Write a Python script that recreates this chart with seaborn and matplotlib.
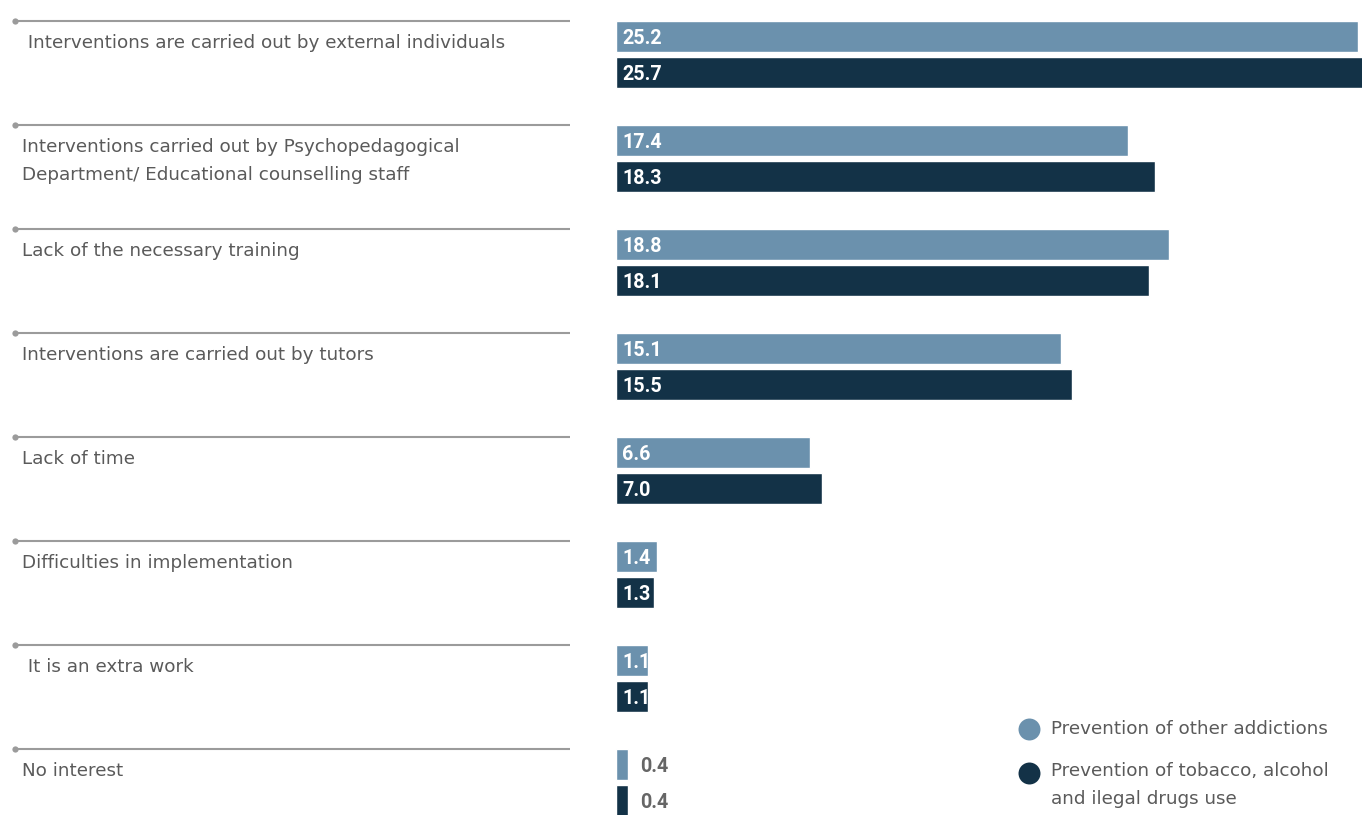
import matplotlib
matplotlib.use("Agg")
import matplotlib.pyplot as plt
import seaborn as sns
import pandas as pd

# Reasons given for how prevention programmes are handled, in percent
categories = [
    " Interventions are carried out by external individuals",
    "Interventions carried out by Psychopedagogical\nDepartment/ Educational counselling staff",
    "Lack of the necessary training",
    "Interventions are carried out by tutors",
    "Lack of time",
    "Difficulties in implementation",
    " It is an extra work",
    "No interest",
]
other_addictions = [25.2, 17.4, 18.8, 15.1, 6.6, 1.4, 1.1, 0.4]
tobacco_alcohol_drugs = [25.7, 18.3, 18.1, 15.5, 7.0, 1.3, 1.1, 0.4]
series_names = [
    "Prevention of other addictions",
    "Prevention of tobacco, alcohol\nand ilegal drugs use",
]
series_colors = ["#6b91ad", "#133247"]

df = pd.DataFrame({
    "category": categories * 2,
    "value": other_addictions + tobacco_alcohol_drugs,
    "series": [series_names[0]] * len(categories) + [series_names[1]] * len(categories),
})

sns.set_theme(style="white")
plt.rcParams["font.family"] = ["DejaVu Sans"]

TEXT_COLOR = "#5a5a5a"
TEXT_SIZE = 13.2
VALUE_FONT = ["Roboto", "DejaVu Sans"]
VALUE_SIZE = 14.2

W, H = 1362, 815
fig = plt.figure(figsize=(W / 100, H / 100), dpi=100)
ax = fig.add_axes([616 / W, 0, 1 - 616 / W, 1])
lax = fig.add_axes([0, 0, 616 / W, 1])

sns.barplot(data=df, y="category", x="value", hue="series", orient="h",
            palette=series_colors, saturation=1, width=0.692, gap=0.139,
            legend=False, ax=ax)

ylim = ((H - 54.5) / 104, -54.5 / 104)
ax.set_ylim(*ylim)
ax.set_xlim(0, 746 / 29.44)
ax.set_axis_off()

# value labels: inside the bar start, or just after a very short bar
for container, values in zip(ax.containers, [other_addictions, tobacco_alcohol_drugs]):
    for bar, v in zip(container, values):
        yc = bar.get_y() + bar.get_height() / 2
        if v >= 1:
            ax.annotate(f"{v:.1f}", xy=(0, yc), xytext=(6, -7.5), textcoords="offset pixels",
                        va="baseline", ha="left", color="white", fontsize=VALUE_SIZE,
                        fontweight="bold", family=VALUE_FONT)
        else:
            ax.annotate(f"{v:.1f}", xy=(v, yc), xytext=(12, -7.5), textcoords="offset pixels",
                        va="baseline", ha="left", color="#666666", fontsize=VALUE_SIZE,
                        fontweight="bold", family=VALUE_FONT)

# category labels with rule lines on the left
lax.set_ylim(*ylim)
lax.set_xlim(0, 616)
lax.set_axis_off()
rule_color = "#9b9b9b"
for i, cat in enumerate(categories):
    y_rule = i - 33.5 / 104
    lax.plot([15, 570], [y_rule, y_rule], color=rule_color, lw=1.5, solid_capstyle="butt")
    lax.plot([15], [y_rule], marker="o", ms=4.5, color=rule_color, mew=0)
    for k, line in enumerate(cat.split("\n")):
        lax.text(22, y_rule + (27.5 + 27 * k) / 104, line, va="baseline", ha="left",
                 fontsize=TEXT_SIZE, color=TEXT_COLOR)

# legend
def ax_xy(px, py):
    return (px - 616) / 746, 1 - py / H

legend_rows = [(729, 734, series_names[0], series_colors[0]),
               (773, 776, series_names[1], series_colors[1])]
for py, base, name, color in legend_rows:
    cx, cy = ax_xy(1029, py)
    ax.scatter([cx], [cy], s=250, color=color, transform=ax.transAxes,
               clip_on=False, linewidths=0)
    for k, line in enumerate(name.split("\n")):
        tx, ty = ax_xy(1051, base + 27.5 * k)
        ax.text(tx, ty, line, transform=ax.transAxes, va="baseline", ha="left",
                fontsize=TEXT_SIZE, color=TEXT_COLOR)

fig.savefig("out.png", dpi=100)
